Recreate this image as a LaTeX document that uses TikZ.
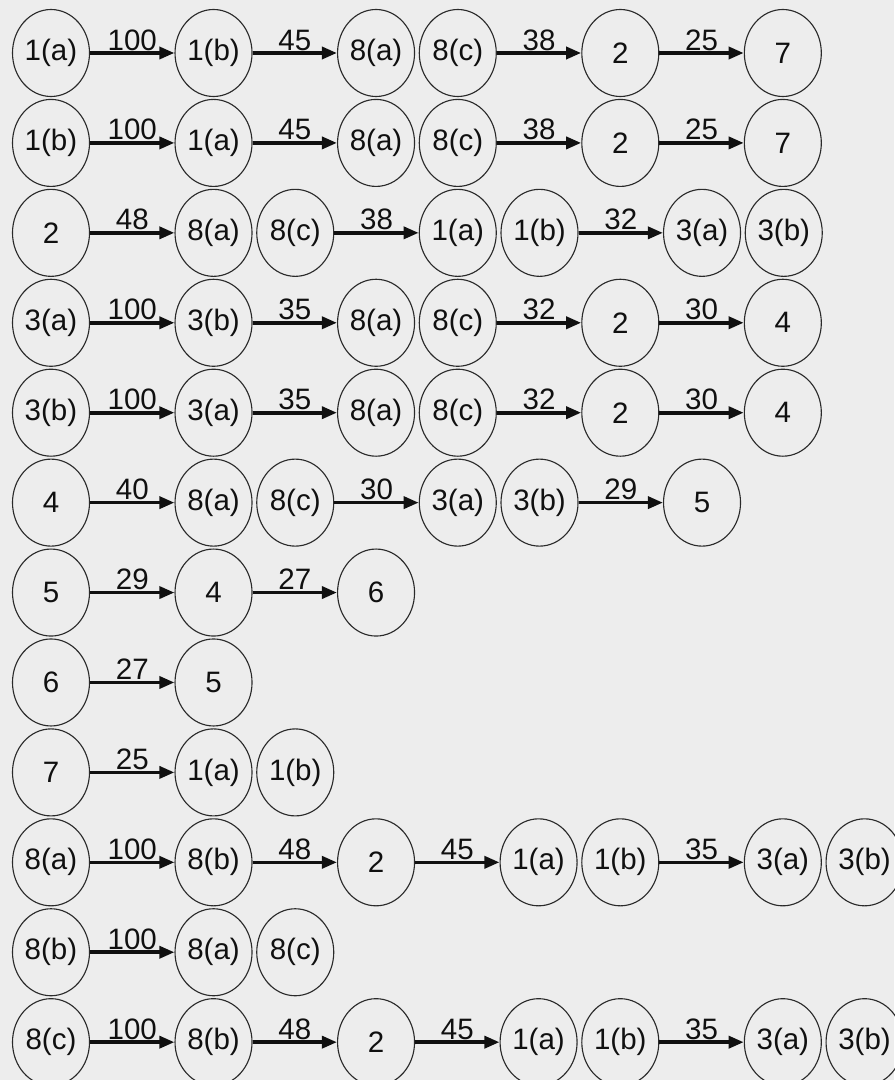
\documentclass[tikz,border=0pt]{standalone}
\usepackage{fontspec}
\setmainfont{Liberation Sans}
\usetikzlibrary{positioning,arrows.meta,shapes.geometric}
\definecolor{paper}{HTML}{EDEDED}
\definecolor{ink}{HTML}{101010}
\definecolor{ring}{HTML}{2A2A2A}

\begin{document}
\begin{tikzpicture}[
  font=\fontsize{21}{24}\selectfont,
  state/.style={ellipse, draw=ring, line width=0.8pt, minimum width=19.25mm, minimum height=21.75mm, inner sep=0pt, text=ink},
  wt/.style={above, inner sep=0.6pt, text=ink},
  arr/.style={-{Triangle[length=3.8mm, width=3mm]}, line width=2.6pt, draw=ink},
]
\path[use as bounding box, fill=paper] (-1.275,1.325) rectangle (21.075,-25.675);
% row 1
\node[state] (r1a) {1(a)};
\node[state, right=21.1mm of r1a] (r1b) {1(b)};
\node[state, right=21.1mm of r1b] (r1c) {8(a)};
\node[state, right=0.9mm of r1c] (r1d) {8(c)};
\node[state, right=21.1mm of r1d] (r1e) {2};
\node[state, right=21.1mm of r1e] (r1f) {7};
\draw[arr] (r1a) -- node[wt] {100} (r1b);
\draw[arr] (r1b) -- node[wt] {45} (r1c);
\draw[arr] (r1d) -- node[wt] {38} (r1e);
\draw[arr] (r1e) -- node[wt] {25} (r1f);
% row 2
\node[state, below=0.45mm of r1a] (r2a) {1(b)};
\node[state, right=21.1mm of r2a] (r2b) {1(a)};
\node[state, right=21.1mm of r2b] (r2c) {8(a)};
\node[state, right=0.9mm of r2c] (r2d) {8(c)};
\node[state, right=21.1mm of r2d] (r2e) {2};
\node[state, right=21.1mm of r2e] (r2f) {7};
\draw[arr] (r2a) -- node[wt] {100} (r2b);
\draw[arr] (r2b) -- node[wt] {45} (r2c);
\draw[arr] (r2d) -- node[wt] {38} (r2e);
\draw[arr] (r2e) -- node[wt] {25} (r2f);
% row 3
\node[state, below=0.45mm of r2a] (r3a) {2};
\node[state, right=21.1mm of r3a] (r3b) {8(a)};
\node[state, right=0.9mm of r3b] (r3c) {8(c)};
\node[state, right=21.1mm of r3c] (r3d) {1(a)};
\node[state, right=0.9mm of r3d] (r3e) {1(b)};
\node[state, right=21.1mm of r3e] (r3f) {3(a)};
\node[state, right=0.9mm of r3f] (r3g) {3(b)};
\draw[arr] (r3a) -- node[wt] {48} (r3b);
\draw[arr] (r3c) -- node[wt] {38} (r3d);
\draw[arr] (r3e) -- node[wt] {32} (r3f);
% row 4
\node[state, below=0.45mm of r3a] (r4a) {3(a)};
\node[state, right=21.1mm of r4a] (r4b) {3(b)};
\node[state, right=21.1mm of r4b] (r4c) {8(a)};
\node[state, right=0.9mm of r4c] (r4d) {8(c)};
\node[state, right=21.1mm of r4d] (r4e) {2};
\node[state, right=21.1mm of r4e] (r4f) {4};
\draw[arr] (r4a) -- node[wt] {100} (r4b);
\draw[arr] (r4b) -- node[wt] {35} (r4c);
\draw[arr] (r4d) -- node[wt] {32} (r4e);
\draw[arr] (r4e) -- node[wt] {30} (r4f);
% row 5
\node[state, below=0.45mm of r4a] (r5a) {3(b)};
\node[state, right=21.1mm of r5a] (r5b) {3(a)};
\node[state, right=21.1mm of r5b] (r5c) {8(a)};
\node[state, right=0.9mm of r5c] (r5d) {8(c)};
\node[state, right=21.1mm of r5d] (r5e) {2};
\node[state, right=21.1mm of r5e] (r5f) {4};
\draw[arr] (r5a) -- node[wt] {100} (r5b);
\draw[arr] (r5b) -- node[wt] {35} (r5c);
\draw[arr] (r5d) -- node[wt] {32} (r5e);
\draw[arr] (r5e) -- node[wt] {30} (r5f);
% row 6
\node[state, below=0.45mm of r5a] (r6a) {4};
\node[state, right=21.1mm of r6a] (r6b) {8(a)};
\node[state, right=0.9mm of r6b] (r6c) {8(c)};
\node[state, right=21.1mm of r6c] (r6d) {3(a)};
\node[state, right=0.9mm of r6d] (r6e) {3(b)};
\node[state, right=21.1mm of r6e] (r6f) {5};
\draw[arr] (r6a) -- node[wt] {40} (r6b);
\draw[arr] (r6c) -- node[wt] {30} (r6d);
\draw[arr] (r6e) -- node[wt] {29} (r6f);
% row 7
\node[state, below=0.45mm of r6a] (r7a) {5};
\node[state, right=21.1mm of r7a] (r7b) {4};
\node[state, right=21.1mm of r7b] (r7c) {6};
\draw[arr] (r7a) -- node[wt] {29} (r7b);
\draw[arr] (r7b) -- node[wt] {27} (r7c);
% row 8
\node[state, below=0.45mm of r7a] (r8a) {6};
\node[state, right=21.1mm of r8a] (r8b) {5};
\draw[arr] (r8a) -- node[wt] {27} (r8b);
% row 9
\node[state, below=0.45mm of r8a] (r9a) {7};
\node[state, right=21.1mm of r9a] (r9b) {1(a)};
\node[state, right=0.9mm of r9b] (r9c) {1(b)};
\draw[arr] (r9a) -- node[wt] {25} (r9b);
% row 10
\node[state, below=0.45mm of r9a] (r10a) {8(a)};
\node[state, right=21.1mm of r10a] (r10b) {8(b)};
\node[state, right=21.1mm of r10b] (r10c) {2};
\node[state, right=21.1mm of r10c] (r10d) {1(a)};
\node[state, right=0.9mm of r10d] (r10e) {1(b)};
\node[state, right=21.1mm of r10e] (r10f) {3(a)};
\node[state, right=0.9mm of r10f] (r10g) {3(b)};
\draw[arr] (r10a) -- node[wt] {100} (r10b);
\draw[arr] (r10b) -- node[wt] {48} (r10c);
\draw[arr] (r10c) -- node[wt] {45} (r10d);
\draw[arr] (r10e) -- node[wt] {35} (r10f);
% row 11
\node[state, below=0.45mm of r10a] (r11a) {8(b)};
\node[state, right=21.1mm of r11a] (r11b) {8(a)};
\node[state, right=0.9mm of r11b] (r11c) {8(c)};
\draw[arr] (r11a) -- node[wt] {100} (r11b);
% row 12
\node[state, below=0.45mm of r11a] (r12a) {8(c)};
\node[state, right=21.1mm of r12a] (r12b) {8(b)};
\node[state, right=21.1mm of r12b] (r12c) {2};
\node[state, right=21.1mm of r12c] (r12d) {1(a)};
\node[state, right=0.9mm of r12d] (r12e) {1(b)};
\node[state, right=21.1mm of r12e] (r12f) {3(a)};
\node[state, right=0.9mm of r12f] (r12g) {3(b)};
\draw[arr] (r12a) -- node[wt] {100} (r12b);
\draw[arr] (r12b) -- node[wt] {48} (r12c);
\draw[arr] (r12c) -- node[wt] {45} (r12d);
\draw[arr] (r12e) -- node[wt] {35} (r12f);
\end{tikzpicture}
\end{document}
